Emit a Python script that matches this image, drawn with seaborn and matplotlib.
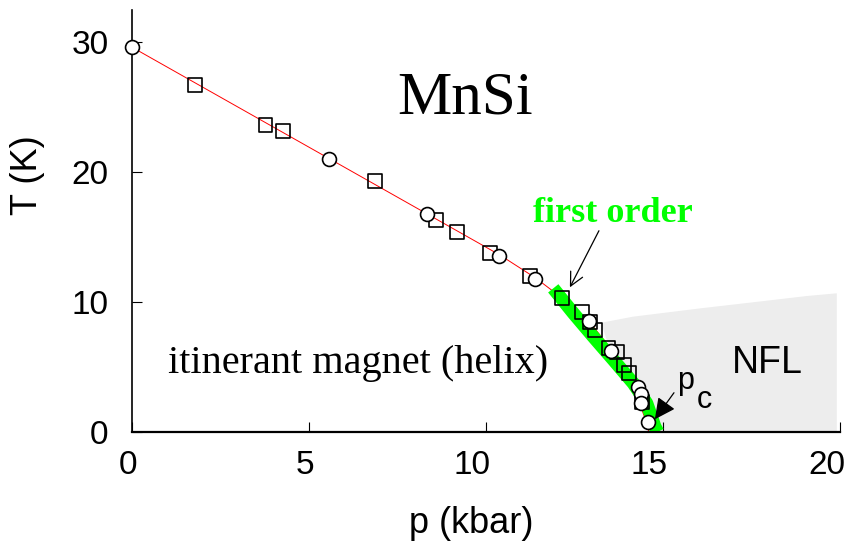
import matplotlib
matplotlib.use('Agg')
import matplotlib.pyplot as plt
import seaborn as sns
from matplotlib.transforms import ScaledTranslation

# ---- data ----
circle_p = [0.0, 5.56, 8.34, 10.38, 11.39, 12.90, 13.54, 14.30, 14.37, 14.39, 14.59]
circle_T = [29.64, 20.98, 16.79, 13.54, 11.79, 8.56, 6.21, 3.44, 2.92, 2.26, 0.79]
square_p = [1.79, 3.77, 4.27, 6.87, 8.60, 9.19, 10.12, 11.24, 12.14, 12.70, 12.94,
            13.08, 13.46, 13.69, 13.90, 14.05, 14.40]
square_T = [26.67, 23.64, 23.15, 19.31, 16.31, 15.36, 13.79, 12.0, 10.28, 9.26, 8.49,
            7.85, 6.44, 6.18, 5.15, 4.51, 2.33]
fit_p = [0.0, 10.4, 11.4, 12.2, 12.9, 13.5, 13.95, 14.15, 14.35, 14.5, 14.6]
fit_T = [29.6, 13.6, 11.85, 10.2, 8.55, 6.5, 4.9, 3.75, 2.1, 1.0, 0.0]
first_order_p = [11.90, 12.47, 13.03, 13.60, 14.16, 14.54, 14.77, 14.85]
first_order_T = [11.05, 9.13, 7.33, 5.54, 3.75, 2.21, 0.41, 0.0]
nfl_p = [13.25, 14.15, 16.05, 17.93, 19.06, 19.91, 19.91, 14.85, 14.77, 14.54, 14.16, 13.60]
nfl_T = [8.4, 8.87, 9.51, 10.1, 10.46, 10.67, 0.0, 0.0, 0.41, 2.21, 3.75, 5.54]
x_ticks = [0, 5, 10, 15, 20]
x_ticklabels = ['0', '5', '10', '15', '20']
y_ticks = [0, 10, 20, 30]
y_ticklabels = ['0', '10', '20', '30']

sns.set_theme(style='white')
plt.rcParams['font.family'] = ['Liberation Sans', 'DejaVu Sans']
plt.rcParams['text.color'] = 'black'
plt.rcParams['axes.labelcolor'] = 'black'
plt.rcParams['xtick.color'] = 'black'
plt.rcParams['ytick.color'] = 'black'

W, H = 850, 541
fig = plt.figure(figsize=(W / 100, H / 100), dpi=100)
ax = fig.add_axes([132 / W, 1 - 432 / H, 708 / W, 422.5 / H])

# NFL region
ax.fill(nfl_p, nfl_T, color='#ededed', lw=0, zorder=0)
# fit line
sns.lineplot(x=fit_p, y=fit_T, sort=False, estimator=None, color='red',
             linewidth=0.7, ax=ax, zorder=1)
# first-order band
sns.lineplot(x=first_order_p, y=first_order_T, sort=False, estimator=None,
             color='#00ff00', linewidth=9.5, solid_capstyle='butt',
             solid_joinstyle='round', ax=ax, zorder=2)
# data
sns.scatterplot(x=square_p, y=square_T, marker='s', s=100, color='black',
                facecolor='none', edgecolor='black', linewidth=1.2,
                ax=ax, zorder=3, clip_on=False)
sns.scatterplot(x=circle_p, y=circle_T, marker='o', s=100, color='black',
                facecolor='white', edgecolor='black', linewidth=1.2,
                ax=ax, zorder=4, clip_on=False)

ax.set_xlim(0, 20)
ax.set_ylim(0, 32.5)
ax.set_xticks(x_ticks)
ax.set_xticklabels(x_ticklabels)
ax.set_yticks(y_ticks)
ax.set_yticklabels(y_ticklabels)
for s in ['top', 'right']:
    ax.spines[s].set_visible(False)
ax.spines['left'].set_linewidth(1.2)
ax.spines['bottom'].set_linewidth(1.6)
ax.spines['left'].set_color('black')
ax.spines['bottom'].set_color('black')
ax.tick_params(axis='x', direction='in', length=7, width=0.8, colors='black',
               labelsize=24, pad=13, bottom=True)
ax.tick_params(axis='y', direction='in', length=7, width=0.8, colors='black',
               labelsize=24, pad=17, left=True)

ax.set_xlabel('p (kbar)', fontsize=26, color='black')
ax.set_ylabel('T (K)', fontsize=26, color='black')
ax.xaxis.set_label_coords((471.7 - 132) / 708, -0.175)
ax.yaxis.set_label_coords(-0.123, 0.608)

# right-align x tick labels slightly right of the tick
off = ScaledTranslation(5 / 100, 0, fig.dpi_scale_trans)
for lab in ax.get_xticklabels():
    lab.set_horizontalalignment('right')
    lab.set_transform(lab.get_transform() + off)

serif = ['Liberation Serif', 'DejaVu Serif']
ax.text(7.48, 24.52, 'MnSi', family=serif, fontsize=44, ha='left', va='baseline',
        color='black')
ax.text(1.03, 4.52, 'itinerant magnet (helix)', family=serif, fontsize=29,
        ha='left', va='baseline', color='black')
ax.text(11.32, 16.18, 'first order', family=serif, fontsize=26, fontweight='bold',
        color='#00ff00', ha='left', va='baseline')
ax.text(16.94, 4.56, 'NFL', fontsize=27, ha='left', va='baseline', color='black')
ax.text(15.40, 3.28, 'p', fontsize=22, ha='left', va='baseline', color='black')
ax.text(15.95, 1.82, 'c', fontsize=22, ha='left', va='baseline', color='black')

ax.annotate('', xy=(12.37, 11.13), xytext=(13.19, 15.48),
            arrowprops=dict(arrowstyle='->', color='black', lw=0.9,
                            mutation_scale=24, shrinkA=0, shrinkB=0), zorder=6)
ax.annotate('', xy=(14.77, 0.98), xytext=(15.31, 3.02),
            arrowprops=dict(arrowstyle='-|>', color='black', lw=0.9,
                            mutation_scale=32, shrinkA=0, shrinkB=0), zorder=6)

fig.savefig('out.png', dpi=100)
